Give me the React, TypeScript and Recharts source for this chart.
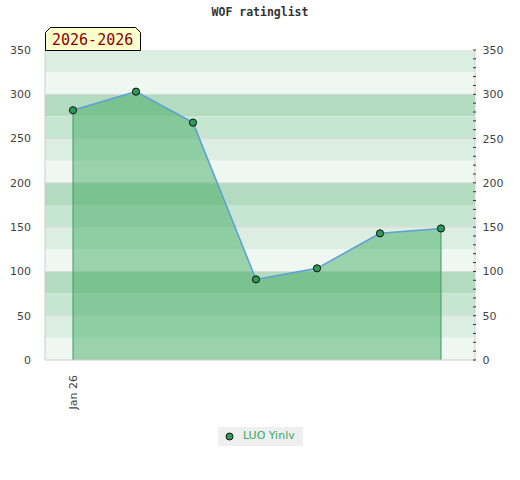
import React from 'react';
import {
  ComposedChart,
  Area,
  Line,
  XAxis,
  YAxis,
  ReferenceArea,
  ReferenceLine,
} from 'recharts';

// x positions: days relative to the first rating (Jan 26)
const dayOffsets = [0, 63, 120, 183, 244, 307, 368];
const ratings = [282, 303, 268, 91, 103.5, 143, 148.5];
const xTicks = [0];
const xTickLabels = ['Jan 26'];
const yTicks = [0, 50, 100, 150, 200, 250, 300, 350];
const yMinorTicks = [
  0, 10, 20, 30, 40, 50, 60, 70, 80, 90, 100, 110, 120, 130, 140, 150, 160, 170,
  180, 190, 200, 210, 220, 230, 240, 250, 260, 270, 280, 290, 300, 310, 320, 330,
  340, 350,
];
const bandColors = ['#b2dbbf', '#c7e6d1', '#dbeee1', '#eff7f2'];
const seriesName = 'LUO Yinlv';
const titleText = 'WOF ratinglist';
const periodText = '2026-2026';

const data = dayOffsets.map((d, i) => ({ d, r: ratings[i] }));

const bands: { y1: number; y2: number; fill: string }[] = [];
for (let top = 350; top > 0; top -= 25) {
  const idx = Math.round(((400 - top) % 100) / 25);
  bands.push({ y1: top - 25, y2: top, fill: bandColors[idx] });
}

const RightTick = (props: any) => {
  const { x, y, payload } = props;
  const v = payload.value;
  return (
    <g>
      <line x1={x - 4} y1={y} x2={x - 1} y2={y} stroke="#333" strokeWidth={1} />
      {v % 50 === 0 ? (
        <text x={x + 5.5} y={y} dy={4} fontSize={11} fill="#444" fontFamily="DejaVu Sans">
          {v}
        </text>
      ) : null}
    </g>
  );
};

const BottomTick = (props: any) => {
  const { x, y, payload } = props;
  const idx = xTicks.indexOf(payload.value);
  return (
    <text
      x={x}
      y={y}
      transform={`rotate(-90 ${x} ${y})`}
      textAnchor="end"
      dx={-7}
      dy={4}
      fontSize={11}
      fill="#444"
      fontFamily="DejaVu Sans"
    >
      {xTickLabels[idx]}
    </text>
  );
};

const Dot = (props: any) => {
  const { cx, cy } = props;
  return <circle cx={cx} cy={cy} r={3.6} fill="#2e9a55" stroke="#111" strokeWidth={1} />;
};

export default function App() {
  const first = data[0];
  const last = data[data.length - 1];
  return (
    <div style={{ position: 'absolute', left: 0, top: 0, width: 520, height: 480, background: '#fff' }}>
      <div
        style={{
          position: 'absolute',
          left: 0,
          top: 5,
          width: 520,
          textAlign: 'center',
          fontFamily: 'DejaVu Sans Mono',
          fontWeight: 'bold',
          fontSize: 11.5,
          color: '#333',
        }}
      >
        {titleText}
      </div>
      <ComposedChart
        width={520}
        height={480}
        data={data}
        margin={{ top: 50, right: 0, bottom: 0, left: 0 }}
      >
        <XAxis
          dataKey="d"
          type="number"
          domain={[-28, 402]}
          ticks={xTicks}
          tick={<BottomTick />}
          tickLine={false}
          axisLine={{ stroke: '#ccc' }}
          height={120}
        />
        <YAxis
          yAxisId="left"
          domain={[0, 350]}
          ticks={yTicks}
          tickLine={false}
          axisLine={{ stroke: '#ccc' }}
          width={45}
          tick={{ fontSize: 11, fill: '#444', fontFamily: 'DejaVu Sans' }}
          tickMargin={8}
        />
        <YAxis
          yAxisId="right"
          orientation="right"
          domain={[0, 350]}
          ticks={yMinorTicks}
          interval={0}
          tickLine={false}
          tickSize={0}
          axisLine={{ stroke: '#ccc' }}
          width={45}
          tick={<RightTick />}
        />
        {bands.map((b, i) => (
          <ReferenceArea
            key={i}
            yAxisId="left"
            y1={b.y1}
            y2={b.y2}
            fill={b.fill}
            fillOpacity={1}
            stroke="none"
            ifOverflow="visible"
          />
        ))}
        {yTicks.slice(1, -1).map((t) => (
          <ReferenceArea
            key={'g' + t}
            yAxisId="left"
            y1={t - 0.6}
            y2={t + 0.6}
            fill="#dcdcdc"
            fillOpacity={1}
            stroke="none"
          />
        ))}
        <Area
          yAxisId="left"
          dataKey="r"
          type="linear"
          fill="#3da960"
          fillOpacity={0.48}
          stroke="none"
          baseValue={0}
          isAnimationActive={false}
          dot={false}
          activeDot={false}
        />
        <ReferenceLine
          yAxisId="left"
          segment={[{ x: first.d, y: 0 }, { x: first.d, y: first.r }]}
          stroke="#3c9a5c"
          strokeWidth={1}
        />
        <ReferenceLine
          yAxisId="left"
          segment={[{ x: last.d, y: 0 }, { x: last.d, y: last.r }]}
          stroke="#3c9a5c"
          strokeWidth={1}
        />
        <Line
          yAxisId="right"
          dataKey="r"
          type="linear"
          stroke="none"
          dot={false}
          activeDot={false}
          isAnimationActive={false}
        />
        <Line
          yAxisId="left"
          dataKey="r"
          type="linear"
          stroke="#5a9fd6"
          strokeWidth={1.5}
          dot={<Dot />}
          activeDot={false}
          isAnimationActive={false}
        />
      </ComposedChart>
      <svg style={{ position: 'absolute', left: 0, top: 0 }} width={150} height={55}>
        <polygon
          points="45.5,50.5 45.5,32.5 50.5,27.5 135.5,27.5 140.5,32.5 140.5,50.5"
          fill="#ffffcc"
          stroke="#000"
          strokeWidth={1}
        />
        <text x={52} y={45} fontFamily="DejaVu Sans Mono" fontSize={15} fill="#8b0000">
          {periodText}
        </text>
      </svg>
      <div
        style={{
          position: 'absolute',
          left: 218,
          top: 427,
          width: 85,
          height: 19,
          background: '#efefef',
        }}
      >
        <svg style={{ position: 'absolute', left: 0, top: 0 }} width={20} height={19}>
          <circle cx={11.5} cy={9.5} r={3.5} fill="#2e9a55" stroke="#111" strokeWidth={1} />
        </svg>
        <span
          style={{
            position: 'absolute',
            left: 25,
            top: 2,
            fontFamily: 'DejaVu Sans',
            fontSize: 11,
            color: '#3aaa5e',
            whiteSpace: 'nowrap',
          }}
        >
          {seriesName}
        </span>
      </div>
    </div>
  );
}
